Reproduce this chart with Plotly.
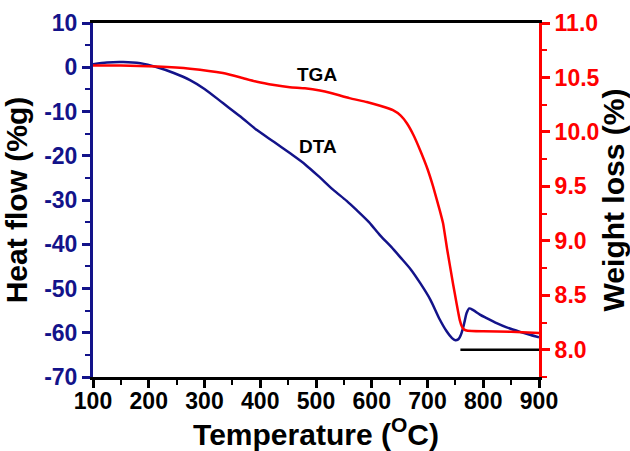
import plotly.graph_objects as go

# DTA (heat flow, left axis)
dta_temp = [100, 125, 154, 185, 215, 245, 274, 300, 333, 365, 394, 425, 453, 480, 507,
            530, 555, 573, 595, 615, 635, 651, 670, 687, 705, 722, 734, 744, 750, 755,
            758, 761, 764, 767, 770, 775, 782, 794, 806, 825, 842, 866, 885, 900]
dta_heat = [0.7, 1.1, 1.2, 0.9, 0.0, -1.3, -2.9, -4.9, -8.1, -11.2, -14.2, -16.9, -19.4, -21.9, -24.9,
            -27.6, -30.2, -32.3, -35.0, -38.0, -40.6, -42.9, -45.7, -48.8, -52.5, -57.0, -59.6, -61.2, -61.7, -61.5,
            -61.0, -60.1, -58.8, -57.2, -55.6, -54.5, -54.9, -55.9, -56.7, -57.9, -58.8, -59.8, -60.5, -61.0]

# TGA (weight, right axis)
tga_temp = [100, 150, 215, 274, 333, 365, 394, 425, 453, 480, 507, 525, 560, 591, 615,
            638, 652, 663, 675, 687, 700, 710, 722, 728, 735, 746, 752, 758, 762, 766,
            772, 800, 850, 900]
tga_wt = [10.61, 10.61, 10.60, 10.58, 10.54, 10.50, 10.46, 10.43, 10.41, 10.40, 10.38, 10.36, 10.31, 10.275, 10.24,
          10.20, 10.15, 10.08, 9.97, 9.83, 9.66, 9.50, 9.28, 9.16, 8.93, 8.60, 8.43, 8.27, 8.21, 8.185,
          8.175, 8.17, 8.165, 8.155]

# Baseline segment (right axis)
base_temp = [759, 900]
base_wt = [8.0, 8.0]

x_ticks = [100, 200, 300, 400, 500, 600, 700, 800, 900]
left_ticks = [10, 0, -10, -20, -30, -40, -50, -60, -70]
right_ticks = [8.0, 8.5, 9.0, 9.5, 10.0, 10.5, 11.0]

NAVY = "#13138a"
RED = "#ff0000"
FONT = "Liberation Sans, Arial, sans-serif"

fig = go.Figure()
fig.add_trace(go.Scatter(x=dta_temp, y=dta_heat, mode="lines", name="DTA",
                         line=dict(color=NAVY, width=2.5, shape="spline", smoothing=0.8)))
fig.add_trace(go.Scatter(x=tga_temp, y=tga_wt, mode="lines", name="TGA", yaxis="y2",
                         line=dict(color=RED, width=2.5, shape="spline", smoothing=0.4)))
fig.add_trace(go.Scatter(x=base_temp, y=base_wt, mode="lines", name="baseline", yaxis="y2",
                         line=dict(color="black", width=2.5)))

fig.update_layout(
    width=630, height=451,
    margin=dict(l=93, r=91, t=23, b=74, autoexpand=False),
    paper_bgcolor="white", plot_bgcolor="white",
    showlegend=False,
    font=dict(family=FONT, color="black"),
    xaxis=dict(
        range=[100, 900], tickvals=x_ticks, ticktext=[str(v) for v in x_ticks],
        showgrid=False, zeroline=False, automargin=False,
        showline=True, linecolor="black", linewidth=3, mirror=True,
        ticks="outside", ticklen=8, tickwidth=2.5, tickcolor="black",
        ticklabelstandoff=-7,
        minor=dict(dtick=50, ticks="outside", ticklen=5, tickwidth=2, tickcolor="black"),
        tickfont=dict(family=FONT, size=23, color="black", weight="bold"),
        title=dict(text="Temperature (<sup>O</sup>C)", standoff=5,
                   font=dict(family=FONT, size=30, color="black", weight="bold")),
    ),
    yaxis=dict(
        range=[-70, 10], tickvals=left_ticks, ticktext=[str(v) for v in left_ticks],
        showgrid=False, zeroline=False, automargin=False,
        showline=True, linecolor=NAVY, linewidth=3,
        ticks="outside", ticklen=8, tickwidth=2.5, tickcolor=NAVY,
        minor=dict(dtick=5, ticks="outside", ticklen=5, tickwidth=2, tickcolor=NAVY),
        tickfont=dict(family=FONT, size=23, color=NAVY, weight="bold"),
        title=dict(text="Heat flow (%g)", standoff=10,
                   font=dict(family=FONT, size=30, color="black", weight="bold")),
    ),
    yaxis2=dict(
        range=[7.75, 11.0], tickvals=right_ticks, ticktext=[f"{v:.1f}" for v in right_ticks],
        overlaying="y", side="right", anchor="x", automargin=False,
        showgrid=False, zeroline=False,
        showline=True, linecolor=RED, linewidth=3,
        ticks="outside", ticklen=8, tickwidth=2.5, tickcolor=RED,
        minor=dict(dtick=0.25, tick0=7.75, ticks="outside", ticklen=5, tickwidth=2, tickcolor=RED),
        tickfont=dict(family=FONT, size=23, color=RED, weight="bold"),
        title=dict(text="Weight loss (%)", standoff=10,
                   font=dict(family=FONT, size=30, color="black", weight="bold")),
    ),
    annotations=[
        dict(x=501, y=10.524, xref="x", yref="y2", text="TGA", showarrow=False,
             font=dict(family=FONT, size=19, color="black", weight="bold")),
        dict(x=504, y=-17.86, xref="x", yref="y", text="DTA", showarrow=False,
             font=dict(family=FONT, size=19, color="black", weight="bold")),
    ],
)

fig.write_html("out.html",
               config={"displayModeBar": False},
               post_script="document.body.style.margin='0';document.body.style.padding='0';")
